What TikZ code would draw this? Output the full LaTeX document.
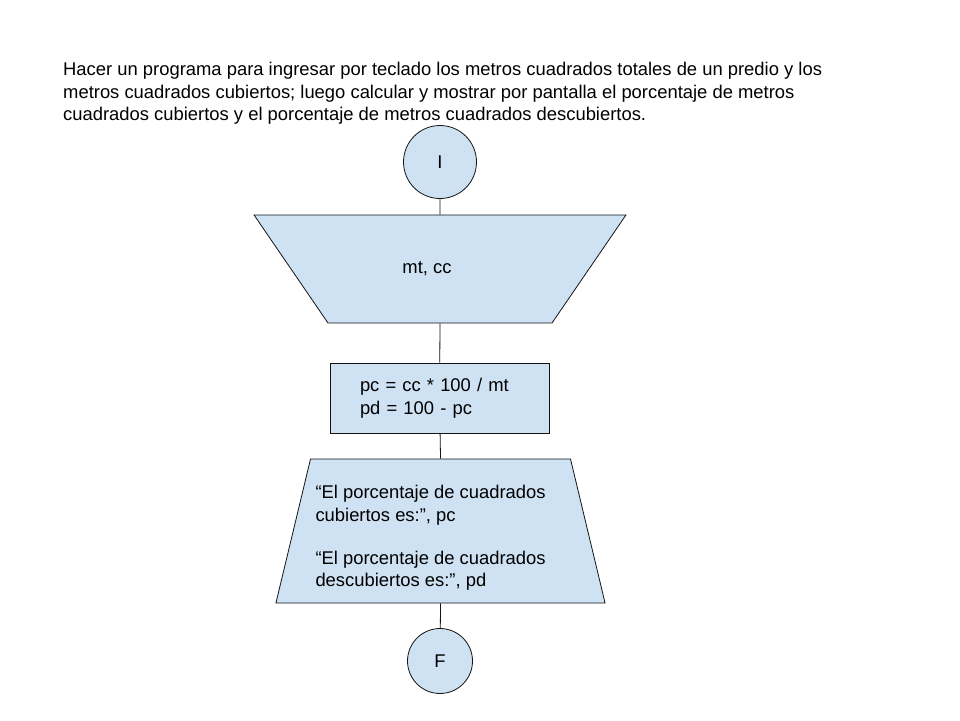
\documentclass[tikz,border=0pt]{standalone}
\usepackage{fontspec}
\setmainfont{Liberation Sans}
\usepackage{tikz}
\usetikzlibrary{shapes.geometric, positioning}
\definecolor{boxblue}{RGB}{207,226,243}
\definecolor{edgedark}{RGB}{20,20,20}
\tikzset{
  terminal/.style={circle, draw=edgedark, fill=boxblue, inner sep=0pt,
    line width=0.8pt},
  inputbox/.style={trapezium, draw=edgedark, fill=boxblue, inner sep=0pt,
    shape border rotate=180,
    trapezium left angle=55.6, trapezium right angle=55.6, line width=0.8pt},
  procbox/.style={rectangle, draw=edgedark, fill=boxblue, inner xsep=30pt,
    text width=159pt, align=left, minimum height=70pt, line width=0.8pt},
  outputbox/.style={trapezium, draw=edgedark, fill=boxblue, inner xsep=5pt,
    inner ysep=0pt,
    trapezium left angle=76.5, trapezium right angle=76.5, line width=0.8pt},
  line/.style={line width=0.8pt, color=edgedark}
}

\begin{document}
\begin{tikzpicture}[x=1pt, y=-1pt,
  every node/.style={font=\fontsize{18.4}{22.5}\selectfont}]
  \useasboundingbox[fill=white] (0,0) rectangle (960,720);

  % Enunciado
  \node[anchor=north west, inner sep=0pt, align=left] (enunciado) at (63,62)
    {Hacer un programa para ingresar por teclado los metros cuadrados totales de un predio y los\\
     metros cuadrados cubiertos; luego calcular y mostrar por pantalla el porcentaje de metros\\
     cuadrados cubiertos y el porcentaje de metros cuadrados descubiertos.};

  % Diagrama
  \node[terminal, minimum size=73pt] (inicio) at (440,162) {I};
  \node[inputbox] (entrada) at (440,269)
    {\parbox[c][108pt][c]{224pt}{\centering mt, cc\hspace*{26pt}}};
  \node[procbox] (proceso) at (439.5,398)
    {\fontsize{18.4}{25}\selectfont pc = cc * 100 / mt\\ pd = 100 - pc};
  \node[outputbox] (salida) at (440.5,531)
    {\parbox[c][144pt][c]{250pt}{\raggedright
     \rule{0pt}{27pt}“El porcentaje de cuadrados\\ cubiertos es:”, pc\\[20.5pt]
     “El porcentaje de cuadrados\\ descubiertos es:”, pd}};
  \node[terminal, minimum size=65pt] (fin) at (440,661) {F};

  \draw[line] (inicio) -- (entrada.north);
  \draw[line] (entrada.south) -- (proceso);
  \draw[line] (proceso) -- (salida.north);
  \draw[line] (salida.south) -- (fin);
\end{tikzpicture}
\end{document}
